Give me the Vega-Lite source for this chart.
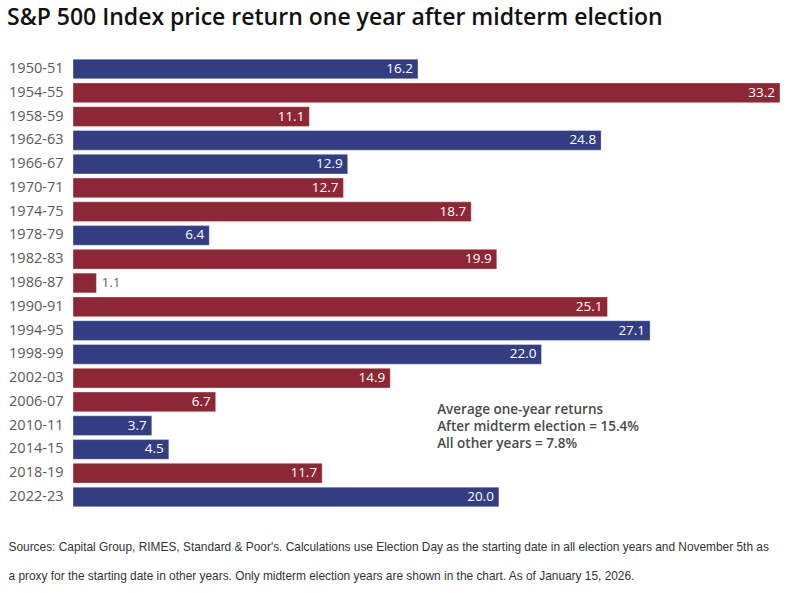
{
  "$schema": "https://vega.github.io/schema/vega-lite/v6.json",
  "autosize": "none",
  "width": 707,
  "height": 452,
  "padding": {"left": 73, "top": 57, "right": 31, "bottom": 84},
  "background": "white",
  "config": {"view": {"stroke": null}, "font": "Open Sans"},
  "title": {
    "text": "S&P 500 Index price return one year after midterm election",
    "anchor": "start",
    "frame": "group",
    "dx": -66,
    "offset": 27,
    "fontSize": 23,
    "fontWeight": 600,
    "font": "Open Sans",
    "color": "#111111"
  },
  "data": {
    "values": [
      {"period": "1950-51", "value": 16.2, "party": "D"},
      {"period": "1954-55", "value": 33.2, "party": "R"},
      {"period": "1958-59", "value": 11.1, "party": "R"},
      {"period": "1962-63", "value": 24.8, "party": "D"},
      {"period": "1966-67", "value": 12.9, "party": "D"},
      {"period": "1970-71", "value": 12.7, "party": "R"},
      {"period": "1974-75", "value": 18.7, "party": "R"},
      {"period": "1978-79", "value": 6.4, "party": "D"},
      {"period": "1982-83", "value": 19.9, "party": "R"},
      {"period": "1986-87", "value": 1.1, "party": "R"},
      {"period": "1990-91", "value": 25.1, "party": "R"},
      {"period": "1994-95", "value": 27.1, "party": "D"},
      {"period": "1998-99", "value": 22.0, "party": "D"},
      {"period": "2002-03", "value": 14.9, "party": "R"},
      {"period": "2006-07", "value": 6.7, "party": "R"},
      {"period": "2010-11", "value": 3.7, "party": "D"},
      {"period": "2014-15", "value": 4.5, "party": "D"},
      {"period": "2018-19", "value": 11.7, "party": "R"},
      {"period": "2022-23", "value": 20.0, "party": "D"}
    ]
  },
  "encoding": {
    "y": {
      "field": "period",
      "type": "nominal",
      "sort": null,
      "scale": {"paddingInner": 0.17, "paddingOuter": 0.09},
      "axis": {
        "title": null,
        "ticks": false,
        "domain": false,
        "labelPadding": 10,
        "labelFontSize": 14.5,
        "labelColor": "#5a5a5a",
        "labelFont": "Open Sans"
      }
    },
    "x": {
      "field": "value",
      "type": "quantitative",
      "scale": {"domain": [0, 33.2], "nice": false},
      "axis": {
        "labels": false,
        "ticks": false,
        "domain": false,
        "grid": false,
        "title": [
          "Sources: Capital Group, RIMES, Standard & Poor's. Calculations use Election Day as the starting date in all election years and November 5th as",
          "a proxy for the starting date in other years. Only midterm election years are shown in the chart. As of January 15, 2026."
        ],
        "titleAnchor": "start",
        "titleAlign": "left",
        "titleX": -65,
        "titleY": 32,
        "titleBaseline": "top",
        "titleFont": "Liberation Sans",
        "titleFontSize": 11.9,
        "titleFontWeight": "normal",
        "titleColor": "#333333",
        "titleLineHeight": 29
      }
    }
  },
  "layer": [
    {
      "mark": {"type": "bar", "stroke": "#ffffff", "strokeOpacity": 0.35, "strokeWidth": 1},
      "encoding": {
        "color": {
          "field": "party",
          "type": "nominal",
          "scale": {"domain": ["D", "R"], "range": ["#333e82", "#8e2735"]},
          "legend": null
        }
      }
    },
    {
      "transform": [{"filter": "datum.value >= 2"}],
      "mark": {"type": "text", "align": "right", "dx": -5, "fontSize": 13.5, "fontWeight": 500, "color": "white", "font": "Open Sans"},
      "encoding": {"text": {"field": "value", "type": "quantitative", "format": ".1f"}}
    },
    {
      "transform": [{"filter": "datum.value < 2"}],
      "mark": {"type": "text", "align": "left", "dx": 5, "fontSize": 13.5, "color": "#666666", "font": "Open Sans"},
      "encoding": {"text": {"field": "value", "type": "quantitative", "format": ".1f"}}
    },
    {
      "data": {"values": [{"xpos": 17.1, "row": "2010-11"}]},
      "mark": {
        "type": "text",
        "align": "left",
        "baseline": "middle",
        "dy": -16,
        "lineHeight": 17,
        "fontSize": 13.5,
        "fontWeight": 600,
        "color": "#4a4a4a",
        "font": "Open Sans",
        "text": ["Average one-year returns", "After midterm election = 15.4%", "All other years = 7.8%"]
      },
      "encoding": {
        "x": {"field": "xpos", "type": "quantitative"},
        "y": {"field": "row", "type": "nominal"}
      }
    }
  ]
}
